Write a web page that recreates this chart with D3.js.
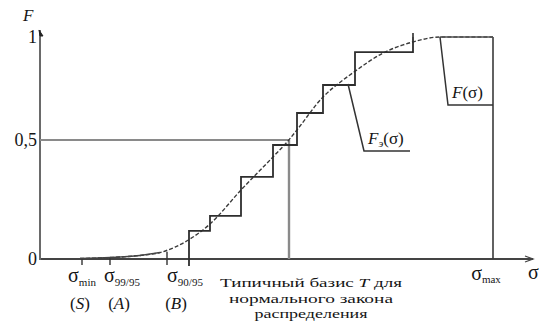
<!DOCTYPE html>
<html><head><meta charset="utf-8">
<script src="https://cdn.jsdelivr.net/npm/d3@7"></script>
</head><body style="margin:0;background:#fff"><svg id="c" width="541" height="325" style="display:block"></svg>
<script>
// ---- data ----
const curveSigma = [40, 70, 100, 120, 135, 150, 170, 201, 233, 248, 257, 283, 303, 314, 343, 373, 400, 453];
const curveF     = [0.002, 0.006, 0.015, 0.027, 0.05, 0.084, 0.147, 0.29, 0.429, 0.496, 0.549, 0.709, 0.791, 0.83, 0.922, 0.976, 1.0, 1.0];
const stepSigma  = [149, 170, 201, 233, 257, 283, 315, 373];
const stepF      = [0.118, 0.181, 0.345, 0.479, 0.631, 0.767, 0.927, 1.0];
const yTicks     = [0, 0.5, 1];
const yTickLabels = ["0", "0,5", "1"];
const xMarkSigma = [42, 70, 127];
const xMarkTopF  = [0.004, 0.008, 0.03];
const xMarkSub   = ["min", "99/95", "90/95"];
const xMarkBasis = ["S", "A", "B"];
const typicalSigma = 249, typicalF = 0.5;
const maxSigma = 453;
const typicalText = [["Типичный базис ", "T", " для"], ["нормального закона"], ["распределения"]];
const typicalWidth = [182, 164, 113];

const svg = d3.select("#c");
const x = d3.scaleLinear().domain([0, 493]).range([40, 533]);
const y = d3.scaleLinear().domain([0, 0.5, 1]).range([259, 140, 37]);
const T = (sel) => sel.append("text").style("font-family", '"Liberation Serif"').attr("fill", "#151515");

// axes
svg.append("line").attr("x1", x(0)).attr("x2", x(493)).attr("y1", y(0)).attr("y2", y(0))
  .attr("stroke", "#444").attr("stroke-width", 1.8);
svg.append("line").attr("x1", x(0)).attr("x2", x(0)).attr("y1", y(0) + 1).attr("y2", y(1.034))
  .attr("stroke", "#6a6a6a").attr("stroke-width", 2);
svg.append("path").attr("d", `M${x(493)-8},${y(0)-3} L${x(493)},${y(0)} L${x(493)-8},${y(0)+3}`)
  .attr("fill", "none").attr("stroke", "#444").attr("stroke-width", 1.3);
svg.append("path").attr("d", `M${x(0)-1},${y(1.034)} L${x(0)+3},${y(1.034)+6} L${x(0)},${y(1.034)+6}Z`)
  .attr("fill", "#222").attr("stroke", "#222").attr("stroke-width", 1);

// y tick labels
yTicks.forEach((d, i) => {
  T(svg).attr("x", x(0) - 3).attr("y", y(d)).attr("dy", "0.32em")
    .attr("text-anchor", "end").attr("font-size", 18).text(yTickLabels[i]);
});
T(svg).attr("x", 23).attr("y", 21).attr("font-size", 17).attr("font-style", "italic").text("F");

// 0.5 guide and typical vertical
svg.append("line").attr("x1", x(0)).attr("x2", x(typicalSigma)).attr("y1", y(typicalF)).attr("y2", y(typicalF))
  .attr("stroke", "#8a8a8a").attr("stroke-width", 2);
svg.append("line").attr("x1", x(typicalSigma)).attr("x2", x(typicalSigma)).attr("y1", y(typicalF)).attr("y2", y(0))
  .attr("stroke", "#8a8a8a").attr("stroke-width", 2.4);
svg.append("line").attr("x1", x(maxSigma)).attr("x2", x(maxSigma)).attr("y1", y(1)).attr("y2", y(0))
  .attr("stroke", "#3a3a3a").attr("stroke-width", 1.6);

// mark ticks
xMarkSigma.forEach((s, i) => {
  svg.append("line").attr("x1", x(s)).attr("x2", x(s)).attr("y1", y(xMarkTopF[i])).attr("y2", y(0) + 6)
    .attr("stroke", "#333").attr("stroke-width", 1.4);
});

// theoretical curve (dashed)
const curvePts = curveSigma.map((s, i) => [x(s), y(curveF[i])]);
svg.append("path").attr("d", d3.line().curve(d3.curveMonotoneX)(curvePts))
  .attr("fill", "none").attr("stroke", "#3a3a3a").attr("stroke-width", 1.4).attr("stroke-dasharray", "4,2");
svg.append("path").attr("d", d3.line()([[x(400), y(1)], [x(maxSigma), y(1)]]))
  .attr("fill", "none").attr("stroke", "#555").attr("stroke-width", 1.4);
svg.append("path").attr("d", d3.line().curve(d3.curveMonotoneX)(curvePts.slice(0, 4)))
  .attr("fill", "none").attr("stroke", "#444").attr("stroke-width", 1.6);

// empirical staircase
const stepPts = [];
stepSigma.forEach((s, i) => {
  stepPts.push([x(s), y(i === 0 ? 0 : stepF[i - 1])]);
  stepPts.push([x(s), y(stepF[i])]);
});
svg.append("path").attr("d", d3.line()(stepPts))
  .attr("fill", "none").attr("stroke", "#2e2e2e").attr("stroke-width", 1.8);
svg.append("line").attr("x1", x(stepSigma[0])).attr("x2", x(stepSigma[0])).attr("y1", y(0)).attr("y2", y(0) + 7)
  .attr("stroke", "#2e2e2e").attr("stroke-width", 1.8);
svg.append("line").attr("x1", x(stepSigma[7])).attr("x2", x(stepSigma[7])).attr("y1", y(1)).attr("y2", y(1.02))
  .attr("stroke", "#2e2e2e").attr("stroke-width", 1.6);

// annotation: F_э(σ)
const feLead = [[308, 0.772], [324, 0.454], [370, 0.454]];
svg.append("path").attr("d", d3.line()(feLead.map(d => [x(d[0]), y(d[1])])))
  .attr("fill", "none").attr("stroke", "#333").attr("stroke-width", 1.5);
const fe = T(svg).attr("x", x(328)).attr("y", y(0.454) - 7).attr("font-size", 17);
fe.append("tspan").attr("font-style", "italic").text("F");
fe.append("tspan").attr("font-size", 11).attr("dy", 3).attr("font-style", "italic").text("э");
fe.append("tspan").attr("dy", -3).text("(σ)");

// annotation: F(σ)
const fLead = [[400, 1.0], [408, 0.67], [maxSigma, 0.67]];
svg.append("path").attr("d", d3.line()(fLead.map(d => [x(d[0]), y(d[1])])))
  .attr("fill", "none").attr("stroke", "#333").attr("stroke-width", 1.5);
const ft = T(svg).attr("x", x(412)).attr("y", y(0.67) - 7).attr("font-size", 17);
ft.append("tspan").attr("font-style", "italic").text("F");
ft.append("tspan").text("(σ)");

// x mark labels
const markDx = [0, 12, 18];
const basisDx = [-2, 9, 9];
xMarkSigma.forEach((s, i) => {
  const t = T(svg).attr("x", x(s) + markDx[i]).attr("y", 282).attr("text-anchor", "middle").attr("font-size", 20);
  t.append("tspan").text("σ");
  t.append("tspan").attr("font-size", 11).attr("dy", 4).text(xMarkSub[i]);
  const b = T(svg).attr("x", x(s) + basisDx[i]).attr("y", 309).attr("text-anchor", "middle").attr("font-size", 17);
  b.append("tspan").text("(");
  b.append("tspan").attr("font-style", "italic").text(xMarkBasis[i]);
  b.append("tspan").text(")");
});
const sm = T(svg).attr("x", x(maxSigma) - 7).attr("y", 280).attr("text-anchor", "middle").attr("font-size", 20);
sm.append("tspan").text("σ");
sm.append("tspan").attr("font-size", 11).attr("dy", 3).text("max");
T(svg).attr("x", 528).attr("y", 279).attr("font-size", 20).text("σ");

// typical text
typicalText.forEach((parts, i) => {
  const t = T(svg).attr("x", 311 - typicalWidth[i] / 2).attr("y", 287 + i * 15.5)
    .attr("font-size", 13.5)
    .attr("textLength", typicalWidth[i]).attr("lengthAdjust", "spacingAndGlyphs");
  parts.forEach((p, j) => t.append("tspan").attr("font-style", p === "T" ? "italic" : null).text(p));
});
</script></body></html>
